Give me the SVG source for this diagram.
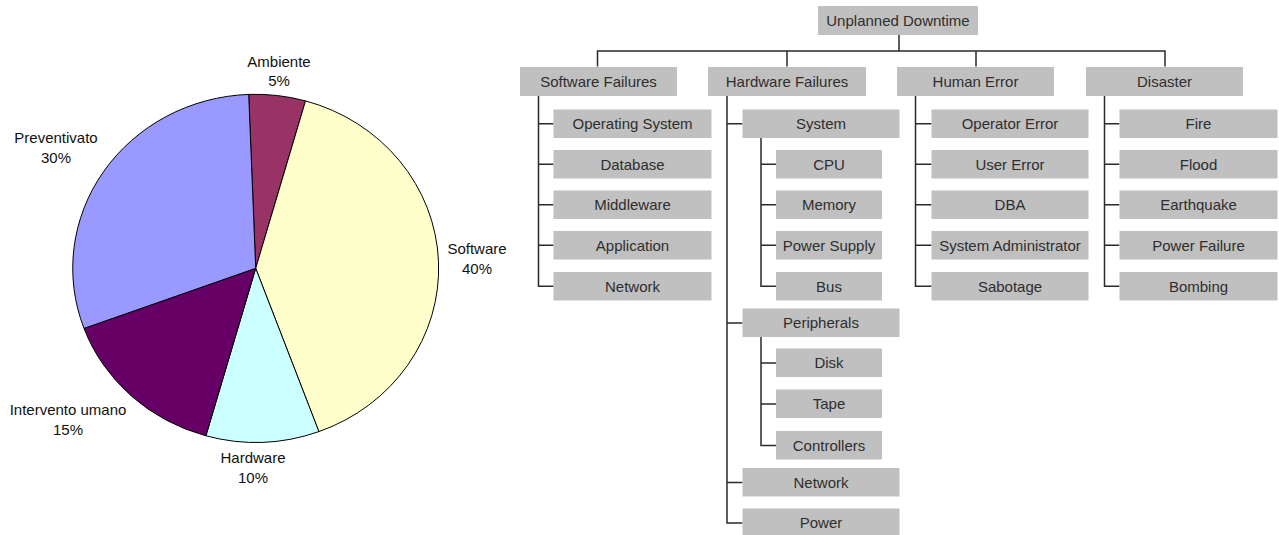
<svg xmlns="http://www.w3.org/2000/svg" width="1279" height="535" viewBox="0 0 1279 535">
  <style>
    .slice { stroke: #000; stroke-width: 1; stroke-linejoin: round; }
    .plbl { font-family: "Liberation Sans", Arial, sans-serif; font-size: 15px; fill: #111; text-anchor: middle; }
    .box { fill: #c0c0c0; }
    .lbl { font-family: "Liberation Sans", Arial, sans-serif; font-size: 15px; fill: #2e2e2e; text-anchor: middle; }
    .wire { fill: none; stroke: #2a2a2a; stroke-width: 1.5; }
  </style>
  <rect width="1279" height="535" fill="#ffffff"/>

  <!-- Pie chart: causes of downtime -->
  <g id="pie">
    <path id="slice-ambiente" class="slice" fill="#993366" d="M255.7 268.3 L248.7 94.4 A183 174 0 0 1 305.5 100.9 Z"/>
    <path id="slice-software" class="slice" fill="#ffffcc" d="M255.7 268.3 L305.5 100.9 A183 174 0 0 1 318.9 431.6 Z"/>
    <path id="slice-hardware" class="slice" fill="#ccffff" d="M255.7 268.3 L318.9 431.6 A183 174 0 0 1 205.9 435.8 Z"/>
    <path id="slice-intervento" class="slice" fill="#660066" d="M255.7 268.3 L205.9 435.8 A183 174 0 0 1 84.0 328.4 Z"/>
    <path id="slice-preventivato" class="slice" fill="#9999ff" d="M255.7 268.3 L84.0 328.4 A183 174 0 0 1 248.7 94.4 Z"/>

    <text class="plbl" x="279" y="66.5">Ambiente</text>
    <text class="plbl" x="279" y="85.5">5%</text>
    <text class="plbl" x="56" y="143">Preventivato</text>
    <text class="plbl" x="56" y="162.5">30%</text>
    <text class="plbl" x="477" y="254">Software</text>
    <text class="plbl" x="477" y="273.5">40%</text>
    <text class="plbl" x="68" y="415">Intervento umano</text>
    <text class="plbl" x="68" y="434.5">15%</text>
    <text class="plbl" x="253" y="463">Hardware</text>
    <text class="plbl" x="253" y="482.5">10%</text>
  </g>

  <!-- Tree connectors -->
  <g id="connectors">
    <path class="wire" d="M899 35 V51 M597.5 66.5 V51 H1165 V66.5 M787 51 V66.5 M976 51 V66.5"/>
    <!-- Software Failures -->
    <path class="wire" d="M538.5 96 V286.25 H553.5 M538.5 123.75 H553.5 M538.5 164.25 H553.5 M538.5 204.75 H553.5 M538.5 245.25 H553.5"/>
    <!-- Hardware Failures -->
    <path class="wire" d="M727 96 V523 H742.5 M727 123.75 H742.5 M727 323 H742.5 M727 482.5 H742.5"/>
    <path class="wire" d="M761 138 V286.25 H776 M761 164.25 H776 M761 204.75 H776 M761 245.25 H776"/>
    <path class="wire" d="M761 337 V445.5 H776 M761 363 H776 M761 404 H776"/>
    <!-- Human Error -->
    <path class="wire" d="M915.5 96 V286.25 H931.5 M915.5 123.75 H931.5 M915.5 164.25 H931.5 M915.5 204.75 H931.5 M915.5 245.25 H931.5"/>
    <!-- Disaster -->
    <path class="wire" d="M1104.5 96 V286.25 H1119.5 M1104.5 123.75 H1119.5 M1104.5 164.25 H1119.5 M1104.5 204.75 H1119.5 M1104.5 245.25 H1119.5"/>
  </g>

  <!-- Root -->
  <g id="n-root"><rect class="box" x="818" y="6" width="160" height="29"/><text class="lbl" x="898" y="25.5">Unplanned Downtime</text></g>

  <!-- Level 1 -->
  <g id="n-software"><rect class="box" x="520" y="67" width="157" height="29"/><text class="lbl" x="598.5" y="86.5">Software Failures</text></g>
  <g id="n-hardware"><rect class="box" x="708" y="67" width="158" height="29"/><text class="lbl" x="787" y="86.5">Hardware Failures</text></g>
  <g id="n-human"><rect class="box" x="897" y="67" width="157" height="29"/><text class="lbl" x="975.5" y="86.5">Human Error</text></g>
  <g id="n-disaster"><rect class="box" x="1086" y="67" width="157" height="29"/><text class="lbl" x="1164.5" y="86.5">Disaster</text></g>

  <!-- Software Failures children -->
  <g id="n-os"><rect class="box" x="553.5" y="109.5" width="158" height="28.5"/><text class="lbl" x="632.5" y="129">Operating System</text></g>
  <g id="n-database"><rect class="box" x="553.5" y="150" width="158" height="28.5"/><text class="lbl" x="632.5" y="169.5">Database</text></g>
  <g id="n-middleware"><rect class="box" x="553.5" y="190.5" width="158" height="28.5"/><text class="lbl" x="632.5" y="210">Middleware</text></g>
  <g id="n-application"><rect class="box" x="553.5" y="231" width="158" height="28.5"/><text class="lbl" x="632.5" y="250.5">Application</text></g>
  <g id="n-sw-network"><rect class="box" x="553.5" y="272" width="158" height="28.5"/><text class="lbl" x="632.5" y="291.5">Network</text></g>

  <!-- Hardware Failures children -->
  <g id="n-system"><rect class="box" x="742.5" y="109.5" width="157" height="28.5"/><text class="lbl" x="821" y="129">System</text></g>
  <g id="n-cpu"><rect class="box" x="776" y="150" width="106" height="28.5"/><text class="lbl" x="829" y="169.5">CPU</text></g>
  <g id="n-memory"><rect class="box" x="776" y="190.5" width="106" height="28.5"/><text class="lbl" x="829" y="210">Memory</text></g>
  <g id="n-psu"><rect class="box" x="776" y="231" width="106" height="28.5"/><text class="lbl" x="829" y="250.5">Power Supply</text></g>
  <g id="n-bus"><rect class="box" x="776" y="272" width="106" height="28.5"/><text class="lbl" x="829" y="291.5">Bus</text></g>
  <g id="n-peripherals"><rect class="box" x="742.5" y="308.5" width="157" height="28.5"/><text class="lbl" x="821" y="328">Peripherals</text></g>
  <g id="n-disk"><rect class="box" x="776" y="348.5" width="106" height="28.5"/><text class="lbl" x="829" y="368">Disk</text></g>
  <g id="n-tape"><rect class="box" x="776" y="389.5" width="106" height="28.5"/><text class="lbl" x="829" y="409">Tape</text></g>
  <g id="n-controllers"><rect class="box" x="776" y="431" width="106" height="28.5"/><text class="lbl" x="829" y="450.5">Controllers</text></g>
  <g id="n-hw-network"><rect class="box" x="742.5" y="468" width="157" height="28.5"/><text class="lbl" x="821" y="487.5">Network</text></g>
  <g id="n-power"><rect class="box" x="742.5" y="508.5" width="157" height="28.5"/><text class="lbl" x="821" y="528">Power</text></g>

  <!-- Human Error children -->
  <g id="n-operator"><rect class="box" x="931.5" y="109.5" width="157" height="28.5"/><text class="lbl" x="1010" y="129">Operator Error</text></g>
  <g id="n-user"><rect class="box" x="931.5" y="150" width="157" height="28.5"/><text class="lbl" x="1010" y="169.5">User Error</text></g>
  <g id="n-dba"><rect class="box" x="931.5" y="190.5" width="157" height="28.5"/><text class="lbl" x="1010" y="210">DBA</text></g>
  <g id="n-sysadmin"><rect class="box" x="931.5" y="231" width="157" height="28.5"/><text class="lbl" x="1010" y="250.5">System Administrator</text></g>
  <g id="n-sabotage"><rect class="box" x="931.5" y="272" width="157" height="28.5"/><text class="lbl" x="1010" y="291.5">Sabotage</text></g>

  <!-- Disaster children -->
  <g id="n-fire"><rect class="box" x="1119.5" y="109.5" width="158" height="28.5"/><text class="lbl" x="1198.5" y="129">Fire</text></g>
  <g id="n-flood"><rect class="box" x="1119.5" y="150" width="158" height="28.5"/><text class="lbl" x="1198.5" y="169.5">Flood</text></g>
  <g id="n-earthquake"><rect class="box" x="1119.5" y="190.5" width="158" height="28.5"/><text class="lbl" x="1198.5" y="210">Earthquake</text></g>
  <g id="n-powerfail"><rect class="box" x="1119.5" y="231" width="158" height="28.5"/><text class="lbl" x="1198.5" y="250.5">Power Failure</text></g>
  <g id="n-bombing"><rect class="box" x="1119.5" y="272" width="158" height="28.5"/><text class="lbl" x="1198.5" y="291.5">Bombing</text></g>
</svg>
